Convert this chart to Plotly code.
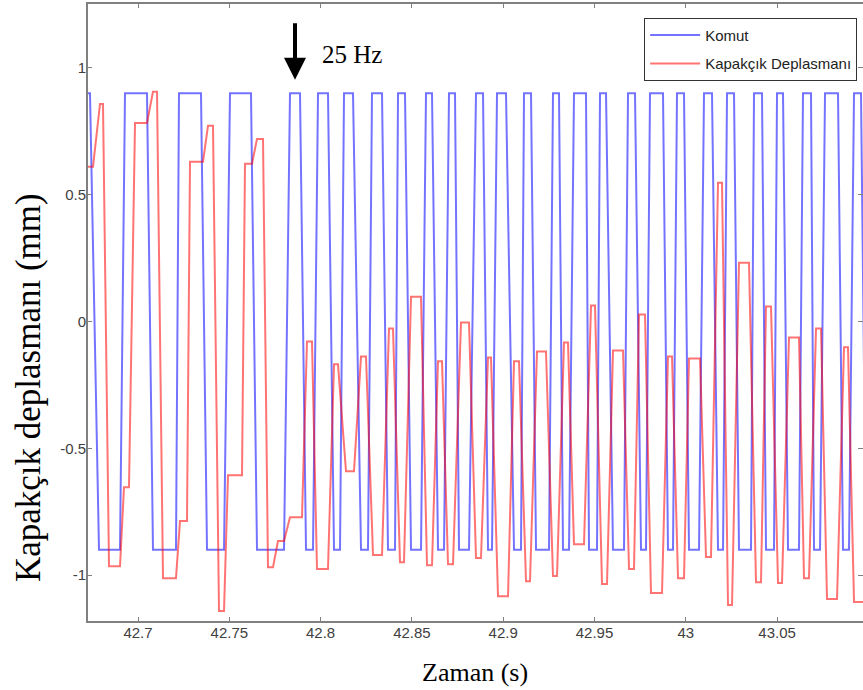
import plotly.graph_objects as go

# ---- Data ----
# Komut (command) square wave: plateaus (start time, end time, level)
komut_start = [42.67207, 42.67864, 42.69288, 42.70821, 42.72245, 42.73779, 42.75038, 42.76517,
               42.78324, 42.79201, 42.79858, 42.80734, 42.81282, 42.82213, 42.82815, 42.83691,
               42.84239, 42.84951, 42.85772, 42.86430, 42.87032, 42.87580, 42.88511, 42.89168,
               42.89661, 42.90592, 42.91139, 42.91797, 42.92727, 42.93275, 42.93877, 42.94699,
               42.95301, 42.96013, 42.96835, 42.97547, 42.98039, 42.99025, 42.99518, 43.00175,
               43.00997, 43.01764, 43.02257, 43.02914, 43.03735, 43.04392, 43.04995, 43.05597,
               43.06418, 43.07021, 43.07624, 43.08609, 43.09212, 43.09869]
komut_end = [42.67371, 42.69014, 42.70493, 42.72081, 42.73450, 42.74710, 42.76188, 42.77996,
             42.78872, 42.79584, 42.80405, 42.81063, 42.81774, 42.82596, 42.83363, 42.84075,
             42.84622, 42.85498, 42.86101, 42.86758, 42.87360, 42.88127, 42.88894, 42.89387,
             42.90153, 42.90975, 42.91523, 42.92508, 42.93056, 42.93604, 42.94535, 42.95137,
             42.95630, 42.96616, 42.97218, 42.97820, 42.98751, 42.99299, 42.99901, 43.00723,
             43.01435, 43.02038, 43.02640, 43.03571, 43.04173, 43.04830, 43.05323, 43.06199,
             43.06857, 43.07350, 43.08336, 43.08938, 43.09595, 43.10000]
komut_level = [0.9, -0.9] * 27

# Kapakcik deplasmani (valve displacement): plateaus (start, end, level)
dep_start = [42.67207, 42.67919, 42.68412, 42.69233, 42.69836, 42.70821, 42.71369, 42.72300,
             42.72848, 42.73834, 42.74436, 42.74929, 42.75860, 42.76517, 42.77119, 42.77667,
             42.78324, 42.79255, 42.79803, 42.80734, 42.81391, 42.82213, 42.82870, 42.83746,
             42.84348, 42.84951, 42.85827, 42.86430, 42.86977, 42.87689, 42.88511, 42.89168,
             42.89715, 42.90592, 42.91249, 42.91851, 42.92727, 42.93330, 42.93877, 42.94809,
             42.95411, 42.96013, 42.96890, 42.97437, 42.98094, 42.99025, 42.99573, 43.00175,
             43.01107, 43.01764, 43.02311, 43.02914, 43.03845, 43.04392, 43.05050, 43.05652,
             43.06473, 43.07131, 43.07733, 43.08664, 43.09212]
dep_end = [42.67536, 42.68083, 42.69014, 42.69507, 42.70493, 42.71041, 42.72081, 42.72683,
           42.73560, 42.74107, 42.74710, 42.75696, 42.76243, 42.76846, 42.77393, 42.77996,
           42.78981, 42.79529, 42.80405, 42.80953, 42.81829, 42.82486, 42.83363, 42.83965,
           42.84567, 42.85498, 42.86101, 42.86649, 42.87251, 42.88127, 42.88784, 42.89332,
           42.90263, 42.90866, 42.91468, 42.92344, 42.92947, 42.93549, 42.94425, 42.95028,
           42.95685, 42.96561, 42.97163, 42.97766, 42.98697, 42.99245, 42.99901, 43.00778,
           43.01380, 43.01983, 43.02531, 43.03461, 43.04118, 43.04666, 43.05269, 43.06200,
           43.06747, 43.07405, 43.08281, 43.08883, 43.09869]
dep_level = [0.610, 0.858, -0.965, -0.654, 0.783, 0.906, -1.012, -0.787,
             0.630, 0.772, -1.142, -0.606, 0.622, 0.720, -0.969, -0.866,
             -0.772, -0.079, -0.976, -0.169, -0.591, -0.138, -0.921, -0.028,
             -0.949, 0.098, -0.961, -0.157, -0.957, -0.004, -0.933, -0.142,
             -1.083, -0.157, -1.024, -0.118, -1.004, -0.083, -0.878, 0.063,
             -1.035, -0.114, -0.976, 0.028, -1.071, -0.138, -1.012, -0.146,
             -0.929, 0.547, -1.118, 0.232, -1.028, 0.059, -1.031, -0.063,
             -1.012, -0.028, -1.094, -0.102, -1.106]

x_tickvals = [42.7, 42.75, 42.8, 42.85, 42.9, 42.95, 43.0, 43.05]
x_ticktext = ["42.7", "42.75", "42.8", "42.85", "42.9", "42.95", "43", "43.05"]
y_tickvals = [1, 0.5, 0, -0.5, -1]
y_ticktext = ["1", "0.5", "0", "-0.5", "-1"]


def plateaus_to_line(starts, ends, levels):
    t, y = [], []
    for s, e, l in zip(starts, ends, levels):
        t += [s, e]
        y += [l, l]
    return t, y


kt, ky = plateaus_to_line(komut_start, komut_end, komut_level)
dt, dy = plateaus_to_line(dep_start, dep_end, dep_level)

fig = go.Figure()
fig.add_trace(go.Scatter(x=kt, y=ky, mode="lines", name="Komut", legendgroup="a",
                         line=dict(color="rgba(0,0,255,0.55)", width=2)))
fig.add_trace(go.Scatter(x=dt, y=dy, mode="lines", name="Kapakçık Deplasmanı", legendgroup="b",
                         line=dict(color="rgba(255,0,0,0.55)", width=2)))

axis_col = "#808080"
fig.update_xaxes(range=[42.67207, 43.09704], tickvals=x_tickvals, ticktext=x_ticktext,
                 showline=False, mirror="ticks", ticks="inside", ticklen=5, tickcolor=axis_col,
                 showgrid=False, zeroline=False,
                 tickfont=dict(family="Liberation Sans", size=15, color="#404040"))
fig.update_yaxes(range=[-1.185, 1.256], tickvals=y_tickvals, ticktext=y_ticktext,
                 showline=False, mirror="ticks", ticks="inside", ticklen=5, tickcolor=axis_col,
                 showgrid=False, zeroline=False,
                 tickfont=dict(family="Liberation Sans", size=15, color="#404040"))

# axes box (right side runs just past the picture edge)
fig.add_shape(type="rect", xref="paper", yref="paper", x0=0, x1=1.003, y0=0, y1=1,
              line=dict(color=axis_col, width=2), layer="above")

fig.add_annotation(x=42.78598, y=0.953, xref="x", yref="y", text="", showarrow=True,
                   ax=0, ay=-58, arrowhead=2, arrowsize=1.1, arrowwidth=4, arrowcolor="black",
                   standoff=0)
fig.add_annotation(x=42.8172, y=1.051, xref="x", yref="y", text="25 Hz", showarrow=False,
                   font=dict(family="Liberation Serif", size=25, color="black"))
fig.add_annotation(x=0.5, y=-0.0808, xref="paper", yref="paper", text="Zaman (s)",
                   showarrow=False, yanchor="middle",
                   font=dict(family="Liberation Serif", size=26, color="black"))
fig.add_annotation(x=-0.076, y=0.378, xref="paper", yref="paper", text="Kapakçık deplasmanı (mm)",
                   showarrow=False, textangle=-90, xanchor="center", yanchor="middle",
                   font=dict(family="Liberation Serif", size=35, color="black"))

fig.update_layout(
    width=863, height=690,
    margin=dict(l=87, r=0, t=3, b=68),
    plot_bgcolor="white", paper_bgcolor="white",
    showlegend=True,
    legend=dict(x=0.718, xanchor="left", y=0.976, yanchor="top",
                bgcolor="white", bordercolor="#333333", borderwidth=1,
                tracegroupgap=6, itemwidth=50,
                font=dict(family="Liberation Sans", size=15, color="#222222")),
)

fig.write_html("out.html",
               config={"displayModeBar": False},
               post_script="document.body.style.margin='0';document.body.style.overflow='hidden';")
